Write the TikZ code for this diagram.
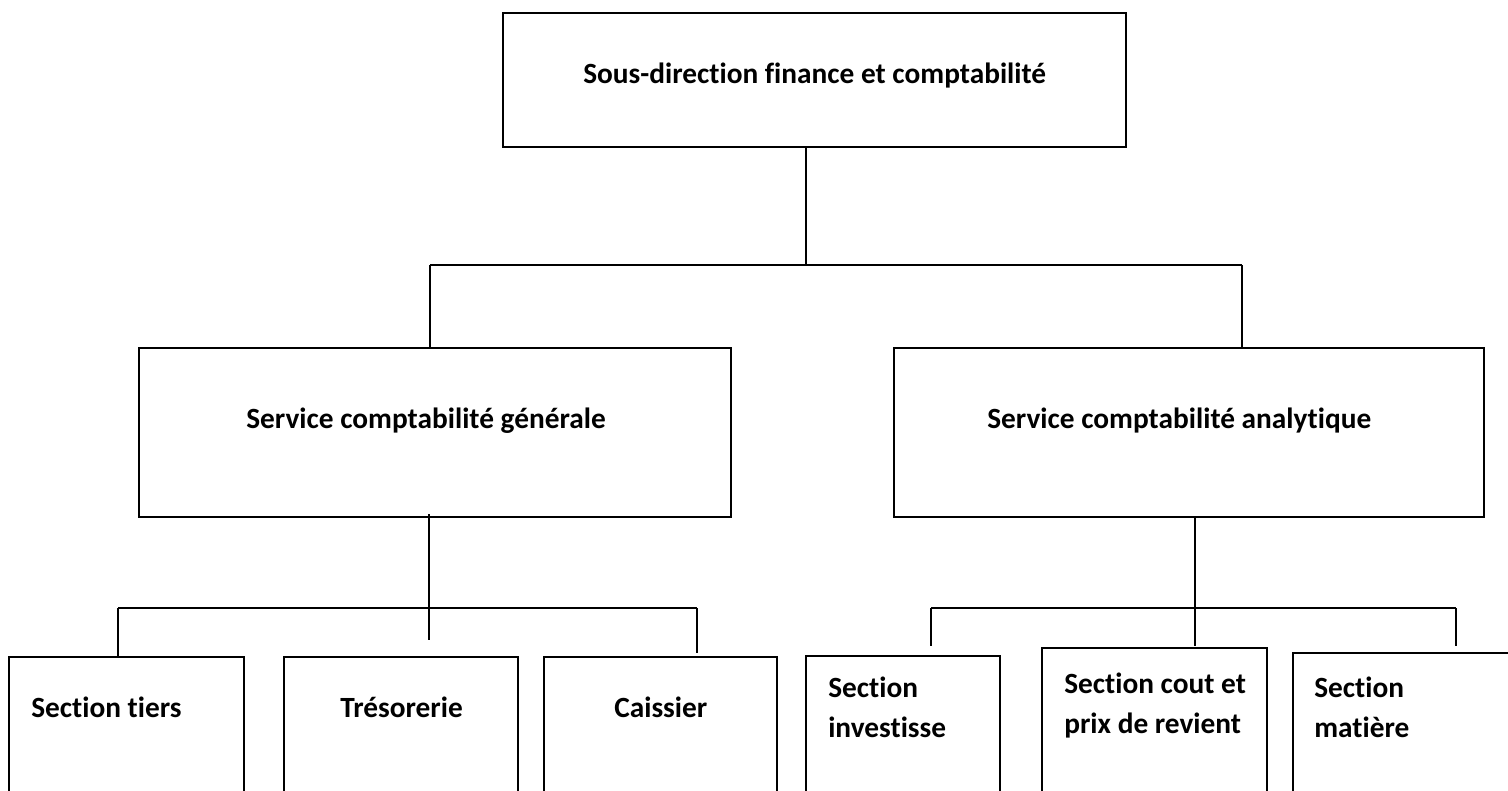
\documentclass[tikz,border=0pt]{standalone}
\usepackage{fontspec}
\setmainfont{Carlito}[Ligatures=NoCommon]
\begin{document}
\begin{tikzpicture}[x=0.75pt,y=-0.75pt,
  orgbox/.style 2 args={draw, rectangle, line width=1.8pt, inner sep=0pt,
    minimum width={#1*0.75pt}, minimum height={#2*0.75pt}},
  conn/.style={line width=1.3pt},
  lbl/.style={anchor=base west, inner sep=0pt, align=left,
    font=\fontsize{22}{30}\selectfont\bfseries}]
\useasboundingbox (0,0) rectangle (1508,790);
\clip (0,0) rectangle (1508,790);

% boxes
\node[orgbox={623}{134}] (top)   at (814.5,80) {};
\node[orgbox={592}{169}] (lsvc)  at (435,432.5) {};
\node[orgbox={590}{169}] (rsvc)  at (1189,432.5) {};
\node[orgbox={235}{173}] (tiers) at (126.5,743.5) {};
\node[orgbox={234}{173}] (tres)  at (401,743.5) {};
\node[orgbox={233}{173}] (caiss) at (660.5,743.5) {};
\node[orgbox={194}{174}] (inv)   at (903,743) {};
\node[orgbox={225}{182}] (cout)  at (1154.5,739) {};
\node[orgbox={247}{177}] (mat)   at (1416.5,741.5) {};

% labels (two-line labels are placed by the baseline of their last line)
\node[lbl] (ttop)   at (583,83)  {Sous-direction finance et comptabilité};
\node[lbl] (tlsvc)  at (246,428) {Service comptabilité générale};
\node[lbl] (trsvc)  at (987,428) {Service comptabilité analytique};
\node[lbl] (ttiers) at (31,717)  {Section tiers};
\node[lbl] (ttres)  at (340,717) {Trésorerie};
\node[lbl] (tcaiss) at (614,717) {Caissier};
\node[lbl] (tinv)   at (828,737) {Section\\investisse};
\node[lbl] (tcout)  at (1064,733) {Section cout et\\prix de revient};
\node[lbl] (tmat)   at (1314,737) {Section\\matière};

% junction points
\coordinate (j0) at (806,265);
\coordinate (jL) at (430,265);
\coordinate (jR) at (1242,265);
\coordinate (g0) at (429,608);
\coordinate (g0e) at (429,640);
\coordinate (g1) at (118,608);
\coordinate (g3) at (697,608);
\coordinate (g3e) at (697,653);
\coordinate (a0) at (1195,608);
\coordinate (a0e) at (1195,646);
\coordinate (a1) at (931,608);
\coordinate (a1e) at (931,646);
\coordinate (a3) at (1456,608);
\coordinate (a3e) at (1456,646);

% connectors: top level
\draw[conn] (top.south -| j0) -- (j0);
\draw[conn] (jL) -- (jR);
\draw[conn] (jL) -- (jL |- lsvc.north);
\draw[conn] (jR) -- (jR |- rsvc.north);

% connectors: general accounting
\draw[conn] ([yshift=3pt]lsvc.south -| g0) -- (g0e);
\draw[conn] (g1) -- (g3);
\draw[conn] (g1) -- (g1 |- tiers.north);
\draw[conn] (g3) -- (g3e);

% connectors: cost accounting
\draw[conn] (rsvc.south -| a0) -- (a0e);
\draw[conn] (a1) -- (a3);
\draw[conn] (a1) -- (a1e);
\draw[conn] (a3) -- (a3e);
\end{tikzpicture}
\end{document}
